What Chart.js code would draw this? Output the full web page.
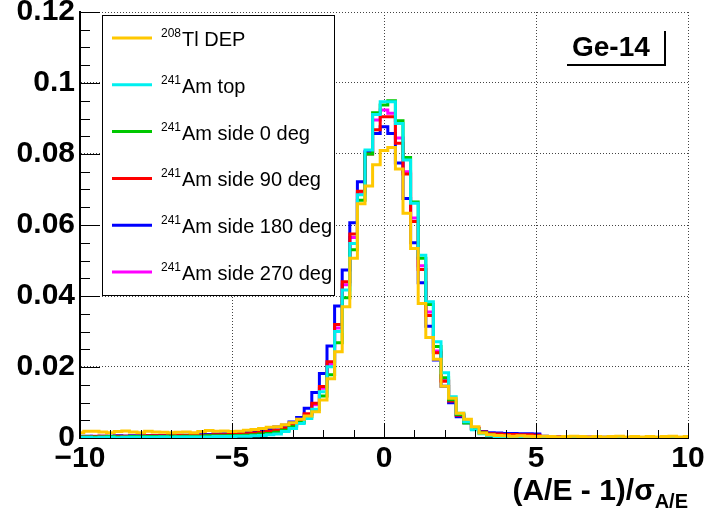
<!DOCTYPE html>
<html>
<head>
<meta charset="utf-8">
<script src="https://cdn.jsdelivr.net/npm/chart.js@4.4.0/dist/chart.umd.min.js"></script>
<style>
  body { margin: 0; background: #fff; }
  canvas { display: block; }
</style>
</head>
<body>
<canvas id="c" width="711" height="512"></canvas>
<script>
// histogram binning: 81 bins of width 0.25 centred on -10 ... 10
const binWidth = 0.25;
const binCenters = Array.from({ length: 81 }, (_, i) => -10 + i * binWidth);

const tlDep = [
  0.0015, 0.0019, 0.0019, 0.0017, 0.0015, 0.0018, 0.0020, 0.0017, 0.0015, 0.0019, 0.0017, 0.0016, 0.0015,
  0.0016, 0.0017, 0.0015, 0.0018, 0.0021, 0.0019, 0.0020, 0.0018, 0.0019, 0.0022, 0.0024, 0.0027, 0.0030,
  0.0032, 0.0037, 0.0043, 0.0053, 0.0062, 0.0074, 0.0107, 0.0167, 0.0243, 0.0370, 0.0506, 0.0660, 0.0710,
  0.0770, 0.0810, 0.0818, 0.0758, 0.0633, 0.0534, 0.0379, 0.0283, 0.0222, 0.0146, 0.0112, 0.0070, 0.0053,
  0.0032, 0.0014, 0.0009,
  0.0007, 0.0006, 0.0005, 0.0006, 0.0005, 0.0004, 0.0005, 0.0004, 0.0003, 0.0004, 0.0005, 0.0004, 0.0003,
  0.0004, 0.0003, 0.0004, 0.0005, 0.0003, 0.0004, 0.0003, 0.0004, 0.0003, 0.0004, 0.0005, 0.0003, 0.0004
];
const amTop = [
  0.0002, 0.0002, 0.0001, 0.0002, 0.0002, 0.0001, 0.0002, 0.0002, 0.0002, 0.0002, 0.0002, 0.0003, 0.0002,
  0.0003, 0.0003, 0.0003, 0.0003, 0.0003, 0.0004, 0.0004, 0.0004, 0.0005, 0.0005, 0.0006, 0.0007, 0.0009,
  0.0011, 0.0018, 0.0027, 0.0041, 0.0055, 0.0081, 0.0130, 0.0201, 0.0300, 0.0417, 0.0548, 0.0685, 0.0811,
  0.0911, 0.0947, 0.0947, 0.0886, 0.0783, 0.0661, 0.0515, 0.0384, 0.0271, 0.0184, 0.0116, 0.0070, 0.0046,
  0.0023, 0.0012, 0.0006,
  0.0004, 0.0003, 0.0002, 0.0002, 0.0001, 0.0001, 0.0001, 0.0001, 0.0001, 0.0001, 0.0001, 0.0001, 0.0001,
  0.0001, 0.0001, 0.0001, 0.0001, 0.0001, 0.0001, 0.0001, 0.0001, 0.0001, 0.0001, 0.0001, 0.0001, 0.0001
];
const amSide0 = [
  0.0003, 0.0003, 0.0003, 0.0003, 0.0004, 0.0003, 0.0003, 0.0004, 0.0004, 0.0004, 0.0004, 0.0004, 0.0005,
  0.0004, 0.0005, 0.0005, 0.0005, 0.0006, 0.0006, 0.0006, 0.0007, 0.0007, 0.0008, 0.0009, 0.0011, 0.0013,
  0.0016, 0.0022, 0.0032, 0.0044, 0.0060, 0.0080, 0.0118, 0.0178, 0.0268, 0.0395, 0.0530, 0.0670, 0.0800,
  0.0916, 0.0938, 0.0950, 0.0894, 0.0790, 0.0665, 0.0506, 0.0376, 0.0258, 0.0170, 0.0108, 0.0066, 0.0042,
  0.0024, 0.0014, 0.0008,
  0.0006, 0.0004, 0.0003, 0.0003, 0.0002, 0.0002, 0.0002, 0.0002, 0.0001, 0.0002, 0.0001, 0.0001, 0.0001,
  0.0001, 0.0001, 0.0001, 0.0001, 0.0001, 0.0001, 0.0001, 0.0001, 0.0001, 0.0001, 0.0001, 0.0001, 0.0001
];
const amSide90 = [
  0.0004, 0.0004, 0.0004, 0.0005, 0.0004, 0.0005, 0.0005, 0.0005, 0.0005, 0.0006, 0.0006, 0.0006, 0.0006,
  0.0007, 0.0007, 0.0007, 0.0008, 0.0008, 0.0009, 0.0009, 0.0010, 0.0011, 0.0012, 0.0014, 0.0016, 0.0019,
  0.0022, 0.0028, 0.0037, 0.0050, 0.0068, 0.0098, 0.0145, 0.0215, 0.0320, 0.0440, 0.0575, 0.0695, 0.0800,
  0.0868, 0.0905, 0.0905, 0.0830, 0.0744, 0.0610, 0.0475, 0.0345, 0.0240, 0.0160, 0.0104, 0.0064, 0.0044,
  0.0027, 0.0017, 0.0012,
  0.0011, 0.0010, 0.0010, 0.0009, 0.0009, 0.0008, 0.0004, 0.0003, 0.0003, 0.0002, 0.0002, 0.0002, 0.0002,
  0.0002, 0.0001, 0.0002, 0.0001, 0.0001, 0.0001, 0.0001, 0.0001, 0.0001, 0.0001, 0.0001, 0.0001, 0.0001
];
const amSide180 = [
  0.0005, 0.0005, 0.0004, 0.0005, 0.0005, 0.0006, 0.0005, 0.0006, 0.0006, 0.0007, 0.0006, 0.0007, 0.0007,
  0.0008, 0.0008, 0.0009, 0.0009, 0.0010, 0.0011, 0.0012, 0.0013, 0.0014, 0.0016, 0.0018, 0.0021, 0.0026,
  0.0031, 0.0036, 0.0045, 0.0058, 0.0084, 0.0128, 0.0182, 0.0259, 0.0372, 0.0473, 0.0606, 0.0722, 0.0806,
  0.0858, 0.0877, 0.0858, 0.0775, 0.0675, 0.0550, 0.0437, 0.0315, 0.0220, 0.0146, 0.0099, 0.0060, 0.0043,
  0.0027, 0.0018, 0.0015,
  0.0014, 0.0013, 0.0013, 0.0012, 0.0012, 0.0011, 0.0005, 0.0004, 0.0003, 0.0003, 0.0003, 0.0002, 0.0002,
  0.0002, 0.0002, 0.0002, 0.0002, 0.0001, 0.0002, 0.0001, 0.0001, 0.0001, 0.0001, 0.0001, 0.0001, 0.0001
];
const amSide270 = [
  0.0004, 0.0004, 0.0005, 0.0004, 0.0005, 0.0005, 0.0005, 0.0005, 0.0006, 0.0005, 0.0006, 0.0006, 0.0007,
  0.0006, 0.0007, 0.0007, 0.0008, 0.0008, 0.0008, 0.0009, 0.0010, 0.0011, 0.0012, 0.0013, 0.0015, 0.0017,
  0.0020, 0.0026, 0.0035, 0.0048, 0.0066, 0.0094, 0.0140, 0.0208, 0.0310, 0.0432, 0.0565, 0.0690, 0.0805,
  0.0896, 0.0924, 0.0915, 0.0845, 0.0750, 0.0620, 0.0485, 0.0355, 0.0245, 0.0162, 0.0105, 0.0065, 0.0045,
  0.0028, 0.0018, 0.0013,
  0.0012, 0.0011, 0.0011, 0.0010, 0.0010, 0.0009, 0.0004, 0.0003, 0.0003, 0.0002, 0.0002, 0.0002, 0.0002,
  0.0002, 0.0001, 0.0001, 0.0002, 0.0001, 0.0001, 0.0001, 0.0001, 0.0001, 0.0001, 0.0001, 0.0001, 0.0001
];

const seriesSup = ['208', '241', '241', '241', '241', '241'];
const seriesNames = ['Tl DEP', 'Am top', 'Am side 0 deg', 'Am side 90 deg', 'Am side 180 deg', 'Am side 270 deg'];
const seriesValues = [tlDep, amTop, amSide0, amSide90, amSide180, amSide270];
const seriesColors = ['#ffc800', '#00f0f0', '#00c800', '#ff0000', '#0000ff', '#ff00ff'];

const xTickValues = [-10, -5, 0, 5, 10];
const yTickValues = [0, 0.02, 0.04, 0.06, 0.08, 0.1, 0.12];
const panelLabel = 'Ge-14';

const font = "'Liberation Sans', Arial, sans-serif";
Chart.defaults.font.family = font;
Chart.defaults.color = '#000';

const decor = {
  id: 'decor',
  afterDraw(chart) {
    const { ctx, chartArea: a, scales: { x, y } } = chart;
    ctx.save();

    // ROOT style inner ticks
    ctx.strokeStyle = '#000';
    ctx.lineWidth = 1;
    ctx.beginPath();
    for (let i = 0; i <= 24; i++) {
      const py = Math.round(y.getPixelForValue(i * 0.005)) + 0.5;
      const len = i % 4 === 0 ? 20 : 10;
      ctx.moveTo(a.left, py);
      ctx.lineTo(a.left + len, py);
    }
    for (let v = -10; v <= 10; v++) {
      const px = Math.round(x.getPixelForValue(v)) + 0.5;
      const len = v % 5 === 0 ? 15 : 8;
      ctx.moveTo(px, a.bottom);
      ctx.lineTo(px, a.bottom - len);
    }
    ctx.stroke();

    // legend box
    const lx = 102, ly = 15, lw = 232, lh = 280;
    ctx.fillStyle = '#fff';
    ctx.fillRect(lx, ly, lw, lh);
    ctx.strokeStyle = '#000';
    ctx.lineWidth = 1;
    ctx.strokeRect(lx + 0.5, ly + 0.5, lw, lh);
    seriesNames.forEach((name, i) => {
      const ry = 38 + i * 46.8;
      ctx.strokeStyle = seriesColors[i];
      ctx.lineWidth = 3;
      ctx.beginPath();
      ctx.moveTo(112, ry);
      ctx.lineTo(152, ry);
      ctx.stroke();
      ctx.fillStyle = '#000';
      ctx.textAlign = 'left';
      ctx.textBaseline = 'alphabetic';
      ctx.font = `12px ${font}`;
      ctx.fillText(seriesSup[i], 161, ry - 1);
      const sw = ctx.measureText(seriesSup[i]).width;
      ctx.font = `20px ${font}`;
      ctx.fillText(name, 161 + sw + 1, ry + 8);
    });

    // panel label with shadow lines
    ctx.font = `bold 28px ${font}`;
    ctx.fillStyle = '#000';
    ctx.fillText(panelLabel, 572, 56);
    ctx.strokeStyle = '#000';
    ctx.lineWidth = 2;
    ctx.beginPath();
    ctx.moveTo(567, 65);
    ctx.lineTo(666, 65);
    ctx.moveTo(665, 31);
    ctx.lineTo(665, 66);
    ctx.stroke();

    // x axis title (A/E - 1)/sigma_A/E, right aligned to the axis end
    const main = '(A/E - 1)/σ';
    const sub = 'A/E';
    ctx.font = `bold 20px ${font}`;
    const subW = ctx.measureText(sub).width;
    ctx.font = `bold 30px ${font}`;
    const mainW = ctx.measureText(main).width;
    const endX = a.right;
    ctx.fillText(main, endX - subW - mainW, 500);
    ctx.font = `bold 20px ${font}`;
    ctx.fillText(sub, endX - subW, 508);

    ctx.restore();
  }
};

new Chart(document.getElementById('c'), {
  type: 'line',
  data: {
    datasets: seriesNames.map((name, i) => ({
      label: name,
      data: binCenters.map((c, k) => ({ x: c, y: seriesValues[i][k] })),
      borderColor: seriesColors[i],
      borderWidth: 3,
      stepped: 'middle',
      pointRadius: 0,
      fill: false
    }))
  },
  options: {
    responsive: false,
    animation: false,
    layout: { padding: { top: 12, right: 23, left: 0, bottom: 0 } },
    plugins: { legend: { display: false }, tooltip: { enabled: false } },
    scales: {
      x: {
        type: 'linear',
        min: -10,
        max: 10,
        afterBuildTicks: s => { s.ticks = xTickValues.map(v => ({ value: v })); },
        afterFit: s => { s.height = 74; s.paddingLeft = 0; s.paddingRight = 0; },
        ticks: {
          font: { size: 30, weight: 'bold' },
          padding: 3,
          maxRotation: 0,
          callback: v => (v < 0 ? '\u2212' + Math.abs(v) : String(v))
        },
        grid: { color: '#444', lineWidth: 1, drawTicks: false },
        border: { display: true, color: '#000', width: 2, dash: [1, 2] }
      },
      y: {
        min: 0,
        max: 0.12,
        afterBuildTicks: s => { s.ticks = yTickValues.map(v => ({ value: v })); },
        afterFit: s => { s.width = 80; s.paddingTop = 0; s.paddingBottom = 0; },
        ticks: {
          font: { size: 30, weight: 'bold' },
          padding: 5,
          callback: v => String(Math.round(v * 100) / 100)
        },
        grid: { color: '#444', lineWidth: 1, drawTicks: false },
        border: { display: true, color: '#000', width: 2, dash: [1, 2] }
      }
    }
  },
  plugins: [decor]
});
</script>
</body>
</html>
